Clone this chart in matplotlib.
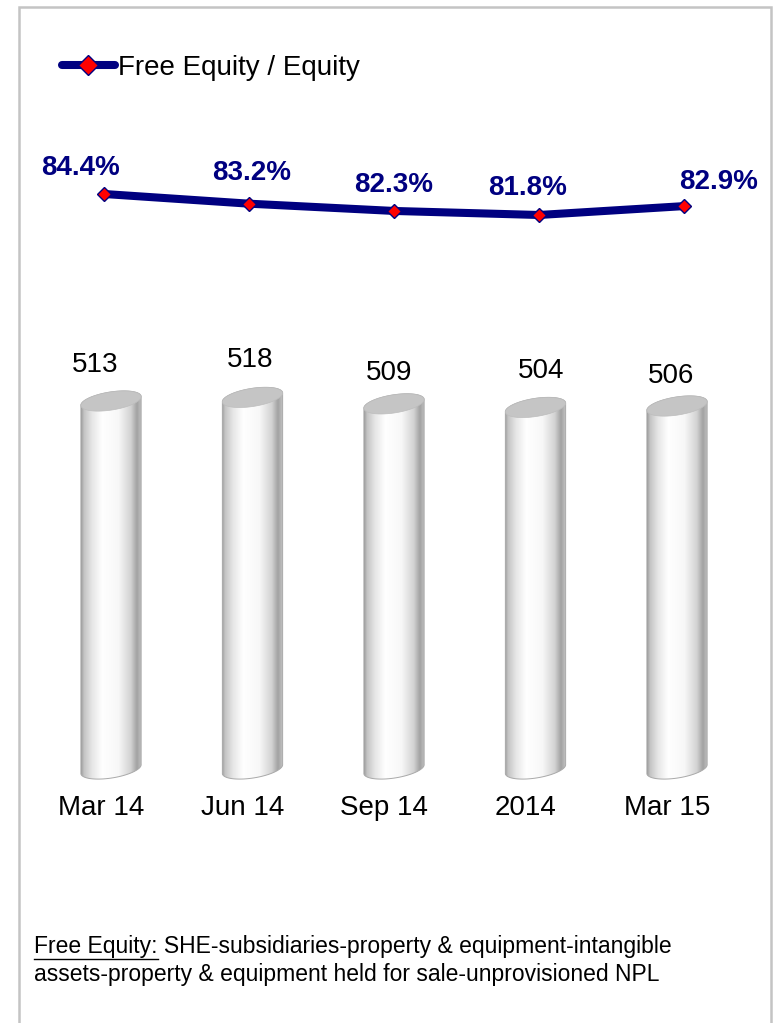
import numpy as np
import matplotlib
matplotlib.use("Agg")
import matplotlib.pyplot as plt
from matplotlib.patches import Polygon, Rectangle
from matplotlib.colors import LinearSegmentedColormap
from matplotlib.lines import Line2D

plt.rcParams["font.family"] = ["Liberation Sans", "DejaVu Sans"]

# Quarterly data
periods = ["Mar 14", "Jun 14", "Sep 14", "2014", "Mar 15"]
free_equity = [513, 518, 509, 504, 506]
free_equity_ratio = [84.4, 83.2, 82.3, 81.8, 82.9]
series_name = "Free Equity / Equity"
note_head = "Free Equity:"
note_lines = ["Free Equity: SHE-subsidiaries-property & equipment-intangible",
              "assets-property & equipment held for sale-unprovisioned NPL"]

# label nudges in pixels (dx, dy), the chart labels were hand placed
ratio_label_shift = [(-23, 26), (3, 31), (0, 26), (-11, 27), (35, 24)]
value_label_shift = [(-16, 36), (-2, 37), (-5, 31), (6, 36), (-6, 30)]

NAVY = "#000080"
W, H = 777, 1023


def px_rect(left, top, width, height):
    # figure fraction rectangle from pixel box measured from the top-left
    return [left / W, 1 - (top + height) / H, width / W, height / H]


fig = plt.figure(figsize=(W / 100, H / 100), dpi=100)

# outer grey frame (open at the bottom)
fig.patches.append(Rectangle((19 / W, -0.05), 752 / W, 1 - 7 / H + 0.05,
                             transform=fig.transFigure, fill=False,
                             edgecolor="#c4c4c4", linewidth=1.8))

# ---- cylinders ----
# value 0 sits at pixel row 769, 0.7173 px per unit; axes extended below
# so the rounded cylinder bottoms are not clipped
ax_bar = fig.add_axes(px_rect(40.25, 250, 707.5, 550))
ylim_bar = (-31 / 0.7173, 519 / 0.7173)
ax_bar.set_xlim(-0.5, len(periods) - 0.5)
ax_bar.set_ylim(*ylim_bar)
ax_bar.axis("off")
ax_bar.patch.set_alpha(0)

shade = LinearSegmentedColormap.from_list("cyl", [
    (0.00, "#9c9c9c"), (0.05, "#c4c4c4"), (0.18, "#e6e6e6"),
    (0.35, "#ffffff"), (0.62, "#f7f7f7"), (0.82, "#d2d2d2"),
    (0.92, "#a2a2a2"), (1.00, "#c4c4c4")])
grad = np.linspace(0, 1, 256).reshape(1, -1)

a, b, tilt = 30.5, 9.0, np.deg2rad(9)
rot = np.array([[np.cos(tilt), -np.sin(tilt)], [np.sin(tilt), np.cos(tilt)]])


def ellipse_pts(center, t):
    loc = np.vstack([a * np.cos(t), b * np.sin(t)])
    return (rot @ loc).T + center


to_data = ax_bar.transData.inverted()
for i, v in enumerate(free_equity):
    top = ax_bar.transData.transform((i, v))
    bot = ax_bar.transData.transform((i, 0))
    upper = ellipse_pts(top, np.linspace(0, np.pi, 60))
    lower = ellipse_pts(bot, np.linspace(np.pi, 2 * np.pi, 60))
    body = to_data.transform(np.vstack([upper, lower]))
    cap = to_data.transform(ellipse_pts(top, np.linspace(0, 2 * np.pi, 120)))

    body_patch = Polygon(body, closed=True, facecolor="none",
                         edgecolor="#a9a9a9", linewidth=0.7, zorder=3)
    ax_bar.add_patch(body_patch)
    img = ax_bar.imshow(grad, cmap=shade, aspect="auto", zorder=2,
                        extent=(body[:, 0].min(), body[:, 0].max(),
                                body[:, 1].min(), body[:, 1].max()))
    img.set_clip_path(body_patch)
    ax_bar.add_patch(Polygon(cap, closed=True, facecolor="#c5c5c5",
                             edgecolor="#bdbdbd", linewidth=0.5, zorder=4))

    dx, dy = value_label_shift[i]
    ax_bar.annotate(str(v), (i, v), xytext=(dx * 0.72, dy * 0.72),
                    textcoords="offset points", ha="center", va="center",
                    fontsize=20, color="black")
    ax_bar.annotate(periods[i], (i, 0), xytext=(-10 * 0.72, -39 * 0.72),
                    textcoords="offset points", ha="center", va="center",
                    fontsize=20, color="black")

ax_bar.set_xlim(-0.5, len(periods) - 0.5)
ax_bar.set_ylim(*ylim_bar)

# ---- ratio line ----
ax_line = fig.add_axes(px_rect(31.5, 100, 725, 200))
ax_line.set_xlim(-0.5, len(periods) - 0.5)
ax_line.set_ylim(71.28, 96.03)
ax_line.axis("off")
ax_line.patch.set_alpha(0)
x = np.arange(len(periods))
line, = ax_line.plot(x, free_equity_ratio, color=NAVY, linewidth=5.8,
                     marker="D", markersize=7.5, markerfacecolor="red",
                     markeredgecolor=NAVY, markeredgewidth=1.0,
                     solid_capstyle="round", label=series_name, zorder=5)
for i, r in enumerate(free_equity_ratio):
    dx, dy = ratio_label_shift[i]
    ax_line.annotate(f"{r:.1f}%", (i, r), xytext=(dx * 0.72, dy * 0.72),
                     textcoords="offset points", ha="center", va="center",
                     fontsize=20, fontweight="bold", color=NAVY)

fig.legend(handles=[line], loc="center left",
           bbox_to_anchor=(62 / W, 1 - 68 / H), frameon=False,
           borderpad=0, borderaxespad=0, handlelength=1.9,
           handletextpad=0.1, fontsize=20, numpoints=1, markerscale=1.3)

# ---- footnote ----
note_size = 16.5
note_y = [946, 975]
for txt, yy in zip(note_lines, note_y):
    fig.text(34 / W, 1 - yy / H, txt, ha="left", va="center",
             fontsize=note_size)
head = fig.text(34 / W, 1 - note_y[0] / H, note_head, ha="left",
                va="center", fontsize=note_size, alpha=0)
fig.canvas.draw()
bb = head.get_window_extent()
fig.add_artist(Line2D([bb.x0 / W, bb.x1 / W],
                      [(bb.y0 - 1.5) / H, (bb.y0 - 1.5) / H],
                      transform=fig.transFigure, color="black", linewidth=1.0))

fig.savefig("out.png", dpi=100)
